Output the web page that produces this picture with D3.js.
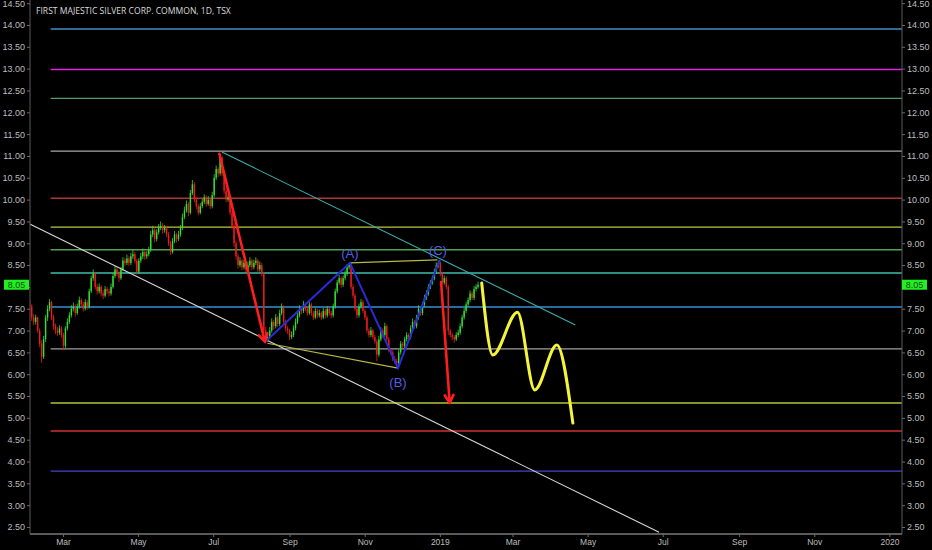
<!DOCTYPE html>
<html>
<head>
<meta charset="utf-8">
<script src="https://cdn.jsdelivr.net/npm/d3@7"></script>
<style>
  body { margin: 0; background: #000; }
  svg text { font-family: "Liberation Sans", Arial, sans-serif; }
</style>
</head>
<body>
<div id="chart"></div>
<script>
"use strict";

const title = "FIRST MAJESTIC SILVER CORP. COMMON, 1D, TSX";
const firstBar = "2018-02-02", lastBar = "2019-02-01";
const lastPrice = 8.05;

// daily bars [open, high, low, close]
const bars = [
  [7.65,7.72,7.45,7.55],[7.55,7.6,7.22,7.3],[7.3,7.38,7.12,7.2],[7.2,7.36,7.14,7.3],[7.3,7.32,6.95,7.0],
  [7.0,7.05,6.62,6.7],[6.7,6.78,6.26,6.4],[6.4,6.88,6.35,6.8],[6.8,7.36,6.74,7.3],[7.3,7.58,7.22,7.5],
  [7.5,7.72,7.44,7.65],[7.65,7.68,7.24,7.3],[7.3,7.36,7.02,7.1],[7.1,7.16,6.92,7.0],[7.0,7.08,6.88,6.95],
  [6.95,7.12,6.9,7.05],[7.05,7.1,6.84,6.9],[6.9,6.95,6.55,6.65],[6.65,7.1,6.6,7.05],[7.05,7.28,7.0,7.2],
  [7.2,7.42,7.15,7.35],[7.35,7.58,7.3,7.5],[7.5,7.64,7.44,7.55],[7.55,7.6,7.32,7.4],[7.4,7.62,7.36,7.55],
  [7.55,7.78,7.5,7.7],[7.7,7.74,7.54,7.6],[7.6,7.66,7.44,7.5],[7.5,7.72,7.46,7.65],[7.65,7.7,7.48,7.55],
  [7.55,7.96,7.5,7.9],[7.9,8.26,7.86,8.2],[8.2,8.4,8.14,8.3],[8.3,8.34,7.94,8.0],[8.0,8.06,7.82,7.9],
  [7.9,8.08,7.85,8.0],[8.0,8.04,7.78,7.85],[7.85,7.92,7.72,7.8],[7.8,8.02,7.76,7.95],[7.95,8.0,7.84,7.9],
  [7.9,7.96,7.78,7.85],[7.85,8.08,7.8,8.0],[8.0,8.32,7.96,8.25],[8.25,8.48,8.2,8.4],[8.4,8.45,8.24,8.3],
  [8.3,8.36,8.12,8.2],[8.2,8.46,8.16,8.4],[8.4,8.68,8.36,8.6],[8.6,8.66,8.48,8.55],[8.55,8.74,8.5,8.65],
  [8.65,8.7,8.48,8.55],[8.55,8.78,8.5,8.7],[8.7,8.84,8.64,8.75],[8.75,8.8,8.54,8.6],[8.6,8.64,8.28,8.35],
  [8.35,8.66,8.3,8.6],[8.6,8.78,8.55,8.7],[8.7,8.88,8.64,8.8],[8.8,8.84,8.62,8.7],[8.7,8.82,8.64,8.75],
  [8.75,8.92,8.7,8.85],[8.85,9.28,8.8,9.2],[9.2,9.4,9.14,9.3],[9.3,9.36,9.02,9.1],[9.1,9.32,9.04,9.25],
  [9.25,9.44,9.2,9.35],[9.35,9.5,9.3,9.4],[9.4,9.46,9.22,9.3],[9.3,9.42,9.24,9.35],[9.35,9.4,9.14,9.2],
  [9.2,9.26,8.94,9.0],[9.0,9.06,8.74,8.8],[8.8,9.12,8.76,9.05],[9.05,9.28,9.0,9.2],[9.2,9.24,9.02,9.1],
  [9.1,9.28,9.05,9.2],[9.2,9.42,9.15,9.35],[9.35,9.68,9.3,9.6],[9.6,9.84,9.55,9.75],[9.75,9.98,9.7,9.9],
  [9.9,9.95,9.62,9.7],[9.7,10.22,9.66,10.15],[10.15,10.45,10.1,10.35],[10.35,10.4,9.94,10.0],[10.0,10.06,9.78,9.85],
  [9.85,9.9,9.64,9.7],[9.7,9.92,9.66,9.85],[9.85,10.02,9.8,9.95],[9.95,10.12,9.9,10.05],[10.05,10.1,9.84,9.9],
  [9.9,10.08,9.86,10.0],[10.0,10.04,9.78,9.85],[9.85,10.18,9.8,10.1],[10.1,10.58,10.05,10.5],[10.5,10.78,10.45,10.7],
  [10.7,10.74,10.52,10.6],[10.6,11.05,10.55,10.95],[10.95,11.0,10.54,10.6],[10.6,10.65,10.12,10.2],[10.2,10.26,9.94,10.0],
  [10.0,10.12,9.95,10.05],[10.05,10.08,9.64,9.7],[9.7,9.76,9.32,9.4],[9.4,9.46,8.92,9.0],[9.0,9.06,8.62,8.7],
  [8.7,8.76,8.42,8.5],[8.5,8.68,8.45,8.6],[8.6,8.64,8.38,8.45],[8.45,8.62,8.4,8.55],[8.55,8.6,8.34,8.4],
  [8.4,8.58,8.35,8.5],[8.5,8.68,8.45,8.6],[8.6,8.64,8.38,8.45],[8.45,8.62,8.4,8.55],[8.55,8.68,8.5,8.6],
  [8.6,8.64,8.34,8.4],[8.4,8.58,8.35,8.5],[8.5,8.55,8.24,8.3],[8.3,8.34,6.94,7.0],[7.0,7.08,6.7,6.8],
  [6.8,6.92,6.74,6.85],[6.85,7.08,6.8,7.0],[7.0,7.28,6.95,7.2],[7.2,7.25,7.02,7.1],[7.1,7.38,7.05,7.3],
  [7.3,7.34,7.08,7.15],[7.15,7.48,7.1,7.4],[7.4,7.62,7.35,7.55],[7.55,7.58,7.12,7.2],[7.2,7.25,6.98,7.05],
  [7.05,7.1,6.92,7.0],[7.0,7.04,6.78,6.85],[6.85,6.98,6.8,6.9],[6.9,7.12,6.85,7.05],[7.05,7.28,7.0,7.2],
  [7.2,7.42,7.15,7.35],[7.35,7.58,7.3,7.5],[7.5,7.55,7.38,7.45],[7.45,7.68,7.4,7.6],[7.6,7.64,7.44,7.5],
  [7.5,7.55,7.34,7.4],[7.4,7.66,7.36,7.6],[7.6,7.64,7.34,7.4],[7.4,7.45,7.24,7.3],[7.3,7.52,7.26,7.45],
  [7.45,7.5,7.28,7.35],[7.35,7.48,7.3,7.4],[7.4,7.44,7.24,7.3],[7.3,7.52,7.26,7.45],[7.45,7.5,7.28,7.35],
  [7.35,7.56,7.3,7.5],[7.5,7.54,7.34,7.4],[7.4,7.45,7.28,7.35],[7.35,7.62,7.3,7.55],[7.55,7.96,7.5,7.9],
  [7.9,8.16,7.85,8.1],[8.1,8.28,8.05,8.2],[8.2,8.24,7.98,8.05],[8.05,8.26,8.0,8.2],[8.2,8.38,8.15,8.3],
  [8.3,8.52,8.25,8.45],[8.45,8.55,8.4,8.5],[8.5,8.54,7.94,8.0],[8.0,8.06,7.74,7.8],[7.8,7.85,7.44,7.5],
  [7.5,7.55,7.28,7.35],[7.35,7.62,7.3,7.55],[7.55,7.72,7.5,7.65],[7.65,7.7,7.4,7.45],[7.45,7.5,7.24,7.3],
  [7.3,7.35,6.94,7.0],[7.0,7.05,6.84,6.9],[6.9,7.08,6.85,7.0],[7.0,7.04,6.8,6.85],[6.85,6.9,6.7,6.75],
  [6.75,6.8,6.3,6.45],[6.45,6.88,6.4,6.8],[6.8,7.08,6.75,7.0],[7.0,7.05,6.84,6.9],[6.9,7.18,6.85,7.1],
  [7.1,7.14,6.74,6.8],[6.8,6.85,6.5,6.55],[6.55,6.6,6.44,6.5],[6.5,6.55,6.3,6.35],[6.35,6.42,6.24,6.3],
  [6.3,6.36,6.15,6.25],[6.25,6.56,6.2,6.5],[6.5,6.76,6.45,6.7],[6.7,6.74,6.58,6.65],[6.65,6.86,6.6,6.8],
  [6.8,6.96,6.75,6.9],[6.9,6.94,6.78,6.85],[6.85,7.12,6.8,7.05],[7.05,7.28,7.0,7.2],[7.2,7.24,7.04,7.1],
  [7.1,7.36,7.05,7.3],[7.3,7.58,7.25,7.5],[7.5,7.55,7.34,7.4],[7.4,7.66,7.35,7.6],[7.6,7.82,7.55,7.75],
  [7.75,7.92,7.7,7.85],[7.85,8.06,7.8,8.0],[8.0,8.16,7.95,8.1],[8.1,8.26,8.05,8.2],[8.2,8.42,8.15,8.35],
  [8.35,8.56,8.3,8.5],[8.5,8.6,8.44,8.55],[8.55,8.58,8.24,8.3],[8.3,8.35,8.04,8.1],[8.1,8.26,8.05,8.2],
  [8.2,8.24,7.94,8.0],[8.0,8.05,6.9,7.0],[7.0,7.04,6.84,6.9],[6.9,6.95,6.78,6.85],[6.85,6.9,6.72,6.8],
  [6.8,6.96,6.76,6.9],[6.9,7.02,6.85,6.95],[6.95,7.16,6.9,7.1],[7.1,7.36,7.05,7.3],[7.3,7.52,7.25,7.45],
  [7.45,7.66,7.4,7.6],[7.6,7.76,7.55,7.7],[7.7,7.92,7.65,7.85],[7.85,7.9,7.7,7.75],[7.75,8.02,7.7,7.95],
  [7.95,8.06,7.9,8.0],[8.0,8.12,7.96,8.05]
];

// horizontal support / resistance levels
const levelStart = "2018-02-19";
const levels = [13.91, 12.98, 12.32, 11.11, 10.03, 9.37, 8.85, 8.32, 7.54, 6.58, 5.34, 4.70, 3.78];
const levelColors = ["#3f8fc4", "#e021e0", "#4f9c6c", "#a8a8a8", "#b23434", "#bcc83a", "#4fa34f",
                     "#3fbcac", "#3392d4", "#a0a0a0", "#b4c434", "#d33030", "#4545cc"];

// drawn trend lines and wave marks [date, price]
const upperTrend = [["2018-07-08", 11.09], ["2019-04-21", 7.13]];
const lowerTrend = [["2018-02-02", 9.44], ["2019-06-28", 2.38]];
const wavePath = [["2018-08-12", 6.74], ["2018-10-20", 8.55], ["2018-11-28", 6.14], ["2019-01-01", 8.62]];
const waveLabels = ["(A)", "(B)", "(C)"];
const topLink = [["2018-10-20", 8.55], ["2018-12-30", 8.62]];
const bottomLink = [["2018-08-14", 6.71], ["2018-11-28", 6.14]];
const arrows = [
  [["2018-07-06", 11.05], ["2018-08-12", 6.74]],
  [["2019-01-02", 8.11], ["2019-01-09", 5.34]]
];
const forecast = [["2019-02-04", 8.09], ["2019-02-13", 6.44], ["2019-03-05", 7.42],
                  ["2019-03-19", 5.64], ["2019-04-06", 6.67], ["2019-04-19", 4.88]];

const xTicks = ["2018-03-01", "2018-05-01", "2018-07-01", "2018-09-01", "2018-11-01", "2019-01-01",
                "2019-03-01", "2019-05-01", "2019-07-01", "2019-09-01", "2019-11-01", "2020-01-01"];
const yTicks = [2.5, 3, 3.5, 4, 4.5, 5, 5.5, 6, 6.5, 7, 7.5, 8, 8.5, 9, 9.5, 10, 10.5, 11,
                11.5, 12, 12.5, 13, 13.5, 14, 14.5];

const width = 932, height = 550;
const left = 30, right = 902, bottom = 534;
const parse = d3.timeParse("%Y-%m-%d");

const svg = d3.select("#chart").append("svg")
    .attr("width", width)
    .attr("height", height)
    .style("background", "#000");

const x = d3.scaleTime()
    .domain([parse("2018-01-01"), parse("2020-01-01")])
    .range([-9.7, 889.4]);
const y = d3.scaleLinear()
    .domain([2.5, 14])
    .range([527, 25]);
const xBar = d3.scaleLinear()
    .domain([0, bars.length - 1])
    .range([x(parse(firstBar)), x(parse(lastBar))]);

const pt = (d) => [x(parse(d[0])), y(d[1])];

svg.append("clipPath").attr("id", "plot")
    .append("rect")
    .attr("x", left).attr("y", 0)
    .attr("width", right - left).attr("height", bottom);

const plot = svg.append("g").attr("clip-path", "url(#plot)");

// levels
plot.selectAll("line.level")
    .data(levels)
    .enter().append("line")
    .attr("class", "level")
    .attr("x1", x(parse(levelStart)))
    .attr("x2", right)
    .attr("y1", (d) => y(d))
    .attr("y2", (d) => y(d))
    .attr("stroke", (d, i) => levelColors[i])
    .attr("stroke-width", 1.4);

// candles
const candle = plot.selectAll("g.bar")
    .data(bars)
    .enter().append("g")
    .attr("class", "bar")
    .attr("fill", (d) => d[3] >= d[0] ? "#33e033" : "#f01c1c")
    .attr("stroke", (d) => d[3] >= d[0] ? "#33e033" : "#f01c1c");

candle.append("line")
    .attr("x1", (d, i) => xBar(i))
    .attr("x2", (d, i) => xBar(i))
    .attr("y1", (d) => y(d[1]))
    .attr("y2", (d) => y(d[2]))
    .attr("stroke-width", 0.8);

candle.append("rect")
    .attr("x", (d, i) => xBar(i) - 0.7)
    .attr("width", 1.4)
    .attr("y", (d) => y(Math.max(d[0], d[3])))
    .attr("height", (d) => Math.max(0.8, Math.abs(y(d[0]) - y(d[3]))))
    .attr("stroke", "none");

const line = d3.line().x((d) => pt(d)[0]).y((d) => pt(d)[1]);

// trend lines
plot.append("path").attr("d", line(lowerTrend))
    .attr("fill", "none").attr("stroke", "#d6d6d6").attr("stroke-width", 1.1);
plot.append("path").attr("d", line(upperTrend))
    .attr("fill", "none").attr("stroke", "#3aacac").attr("stroke-width", 1.1);

// olive links between wave points
[topLink, bottomLink].forEach((seg) => {
    plot.append("path").attr("d", line(seg))
        .attr("fill", "none").attr("stroke", "#b8b844").attr("stroke-width", 1.1);
});

// ABC wave
plot.append("path").attr("d", line(wavePath))
    .attr("fill", "none").attr("stroke", "#2a2ad8").attr("stroke-width", 2);

plot.selectAll("text.wave")
    .data(waveLabels)
    .enter().append("text")
    .attr("class", "wave")
    .attr("x", (d, i) => pt(wavePath[i + 1])[0] - (i === 2 ? 2 : 0))
    .attr("y", (d, i) => pt(wavePath[i + 1])[1] + (i === 1 ? 19 : -5))
    .attr("text-anchor", "middle")
    .attr("fill", "#5a5ae6")
    .style("font-size", "13px")
    .text((d) => d);

// red arrows
arrows.forEach((a) => {
    const p0 = pt(a[0]), p1 = pt(a[1]);
    const ang = Math.atan2(p1[1] - p0[1], p1[0] - p0[0]);
    const head = 9, spread = 0.5;
    const h1 = [p1[0] - head * Math.cos(ang - spread), p1[1] - head * Math.sin(ang - spread)];
    const h2 = [p1[0] - head * Math.cos(ang + spread), p1[1] - head * Math.sin(ang + spread)];
    plot.append("path")
        .attr("d", d3.line()([p0, p1]) + "M" + h1 + "L" + p1 + "L" + h2)
        .attr("fill", "none")
        .attr("stroke", "#ff1e1e")
        .attr("stroke-width", 2.6)
        .attr("stroke-linecap", "round")
        .attr("stroke-linejoin", "round");
});

// forecast swing
plot.append("path")
    .attr("d", d3.line().curve(d3.curveMonotoneX).x((d) => pt(d)[0]).y((d) => pt(d)[1])(forecast))
    .attr("fill", "none")
    .attr("stroke", "#f4f43a")
    .attr("stroke-width", 3)
    .attr("stroke-linecap", "round");

// axes
const styleAxis = (g) => {
    g.selectAll(".domain").attr("stroke", "#5a5a5a");
    g.selectAll(".tick line").attr("stroke", "#6a6a6a");
    g.selectAll(".tick text").attr("fill", "#bdbdbd")
        .style("font-family", "'Liberation Sans', Arial, sans-serif");
};

// the last-price tag hides the price label it sits on
const yFmt = d3.format(".2f");
const yLabel = (d) => Math.abs(d - lastPrice) < 0.2 ? "" : yFmt(d);

svg.append("g")
    .attr("transform", `translate(${left},0)`)
    .call(d3.axisLeft(y).tickValues(yTicks).tickFormat(yLabel).tickSize(3).tickPadding(2).tickSizeOuter(0))
    .call(styleAxis)
    .call((g) => g.select(".domain").attr("d", `M0,0V${bottom}`))
    .style("font-size", "9px");

svg.append("g")
    .attr("transform", `translate(${right},0)`)
    .call(d3.axisRight(y).tickValues(yTicks).tickFormat(yLabel).tickSize(3).tickPadding(2).tickSizeOuter(0))
    .call(styleAxis)
    .call((g) => g.select(".domain").attr("d", `M0,0V${bottom}`))
    .style("font-size", "9px");

const xFmt = (d) => d3.timeYear(d) < d ? d3.timeFormat("%b")(d) : d3.timeFormat("%Y")(d);
svg.append("g")
    .attr("transform", `translate(0,${bottom})`)
    .call(d3.axisBottom(x).tickValues(xTicks.map(parse)).tickFormat(xFmt).tickSize(3).tickPadding(2).tickSizeOuter(0))
    .call(styleAxis)
    .call((g) => g.select(".domain").attr("d", `M${left},0H${right}`).attr("stroke-width", 2))
    .style("font-size", "8.5px");

// last price tags
[[left - 26, left - 1], [right, right + 25]].forEach((span) => {
    const tag = svg.append("g");
    tag.append("rect")
        .attr("x", span[0]).attr("width", span[1] - span[0])
        .attr("y", y(lastPrice) - 5).attr("height", 10)
        .attr("fill", "#22ee22");
    tag.append("text")
        .attr("x", (span[0] + span[1]) / 2)
        .attr("y", y(lastPrice) + 3.3)
        .attr("text-anchor", "middle")
        .attr("fill", "#0d4f0d")
        .style("font-size", "9px")
        .text(yFmt(lastPrice));
});

// title
svg.append("text")
    .attr("x", 36)
    .attr("y", 14)
    .attr("fill", "#dadada")
    .style("font-family", "'Open Sans', 'Noto Sans', sans-serif")
    .style("font-size", "8.6px")
    .text(title);
</script>
</body>
</html>
